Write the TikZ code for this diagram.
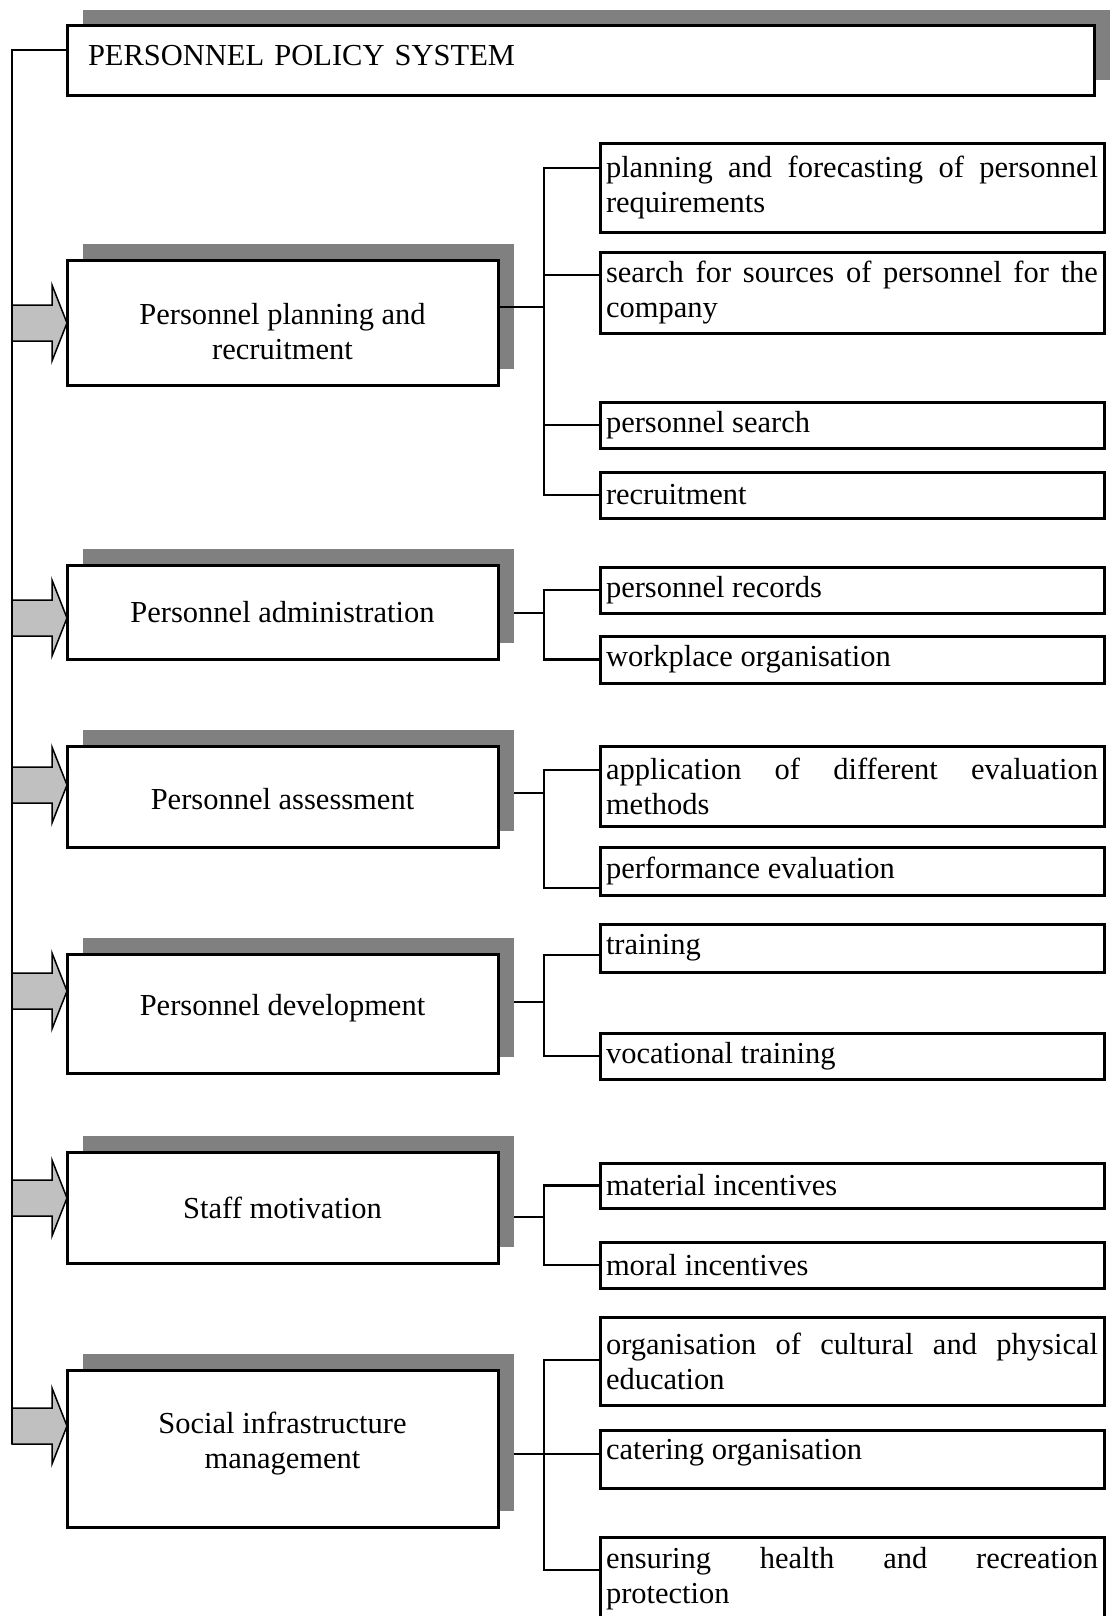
\documentclass[tikz,border=0pt]{standalone}
\usepackage{fontspec}
\setmainfont{Liberation Serif}
\usetikzlibrary{calc,shadows}
\definecolor{shadowgray}{HTML}{808080}
\definecolor{arrowgray}{HTML}{C0C0C0}
\hyphenpenalty=10000
\exhyphenpenalty=10000
% move the ink of a label without changing the space it takes
\newcommand{\nudge}[2]{\raisebox{#1}[\height][\depth]{#2}}
\newcommand{\twolines}[2]{\begin{tabular}{@{}c@{}}#1\\#2\end{tabular}}

\begin{document}
\begin{tikzpicture}[x=1pt,y=-1pt,
  txt/.style={font=\fontsize{30.5}{35}\selectfont},
  boxshadow/.style={general shadow={fill=shadowgray, shadow xshift=16pt, shadow yshift=16pt}},
  framed/.style={txt, draw, line width=3pt, fill=white, outer sep=0pt},
  titlebox/.style={framed, boxshadow, minimum width=1027pt, minimum height=70pt,
    inner xsep=21pt, inner ysep=0pt, text width=985pt, align=left},
  mainbox/.style={framed, boxshadow, minimum width=431pt, inner sep=0pt, align=center},
  subbox/.style={framed, minimum width=504pt, inner xsep=6pt, inner ysep=0pt,
    text width=492pt, align=justify},
  link/.style={line width=2.8pt, line join=miter},
  blockarrow/.style={fill=arrowgray, draw=black, line width=1.5pt, line join=miter}
]
\useasboundingbox (0,0) rectangle (1110,1616);

% head of the structure
\node[titlebox] (sys) at (580.5,61) {\nudge{5pt}{PERSONNEL POLICY SYSTEM}};

% functional blocks
\node[mainbox, minimum height=125pt] (b1) at (282.5,322.5)
  {\nudge{-12pt}{\twolines{Personnel planning and}{recruitment}}};
\node[mainbox, minimum height=94pt]  (b2) at (282.5,612) {Personnel administration};
\node[mainbox, minimum height=101pt] (b3) at (282.5,796.5) {\nudge{-3pt}{Personnel assessment}};
\node[mainbox, minimum height=119pt] (b4) at (282.5,1013.5) {\nudge{5pt}{Personnel development}};
\node[mainbox, minimum height=111pt] (b5) at (282.5,1207.5) {Staff motivation};
\node[mainbox, minimum height=157pt] (b6) at (282.5,1448.5)
  {\nudge{5pt}{\twolines{Social infrastructure}{management}}};

% tasks of each block
\node[subbox, minimum height=88pt] (s11) at (852,188) {planning and forecasting of personnel\linebreak requirements};
\node[subbox, minimum height=81pt] (s12) at (852,292.5) {search for sources of personnel for the\linebreak company};
\node[subbox, minimum height=46pt] (s13) at (852,425) {personnel search};
\node[subbox, minimum height=46pt] (s14) at (852,495) {recruitment};

\node[subbox, minimum height=46pt] (s21) at (852,590) {personnel records};
\node[subbox, minimum height=47pt] (s22) at (852,659.5) {workplace organisation};

\node[subbox, minimum height=80pt] (s31) at (852,786) {application of different evaluation\linebreak methods};
\node[subbox, minimum height=48pt] (s32) at (852,871) {performance evaluation};

\node[subbox, minimum height=48pt] (s41) at (852,948) {training};
\node[subbox, minimum height=46pt] (s42) at (852,1056) {vocational training};

\node[subbox, minimum height=45pt] (s51) at (852,1185.5) {material incentives};
\node[subbox, minimum height=46pt] (s52) at (852,1265) {moral incentives};

\node[subbox, minimum height=88pt] (s61) at (852,1361) {organisation of cultural and physical\linebreak education};
\node[subbox, minimum height=58pt] (s62) at (852,1459) {\nudge{6pt}{catering organisation}};
\node[subbox, minimum height=83pt] (s63) at (852,1578.5) {ensuring health and recreation\linebreak protection};

% trunk from the head down to the last block
\coordinate (trunkend) at ($(b6.west)+(-55,-4.5)$);
\draw[link] ($(sys.north west)+(0,24)$) -| (trunkend);

% block arrows from the trunk into the blocks
\foreach \b/\dy in {b1/0.5, b2/6, b3/-11.5, b4/-22.5, b5/-9.5, b6/-22.5}
  \draw[blockarrow] ($(\b.west)+(0,\dy)$) -- ++(-15,38) -- ++(0,-20) -- ++(-40,0)
    -- ++(0,-36) -- ++(40,0) -- ++(0,-20) -- cycle;

% group 1
\coordinate (k1) at (544,307);
\coordinate (e11) at ($(s11.north west)+(0,24)$);
\coordinate (e12) at ($(s12.north west)+(0,23)$);
\draw[link] (b1.east |- k1) -- (k1);
\draw[link] (e11) -| (k1) |- (s14.west);
\draw[link] (e12) -- (k1 |- e12);
\draw[link] (s13.west) -- (k1 |- s13.west);

% group 2
\coordinate (k2) at (544,613);
\draw[link] ($(b2.east |- k2)+(16,0)$) -- (k2);
\draw[link] (s21.west) -| (k2) |- (s22.west);

% group 3
\coordinate (k3) at (544,793);
\coordinate (e31) at ($(s31.north west)+(0,24)$);
\coordinate (e32) at ($(s32.south west)+(0,-7)$);
\draw[link] ($(b3.east |- k3)+(16,0)$) -- (k3);
\draw[link] (e31) -| (k3) |- (e32);

% group 4
\coordinate (k4) at (544,1002);
\coordinate (e41) at ($(s41.west)+(0,7)$);
\draw[link] ($(b4.east |- k4)+(16,0)$) -- (k4);
\draw[link] (e41) -| (k4) |- (s42.west);

% group 5
\coordinate (k5) at (544,1217);
\draw[link] ($(b5.east |- k5)+(16,0)$) -- (k5);
\draw[link] (s51.west) -| (k5) |- (s52.west);

% group 6
\coordinate (k6) at (544,1454);
\coordinate (e61) at ($(s61.north west)+(0,43)$);
\coordinate (e63) at ($(s63.north west)+(0,33)$);
\draw[link] ($(b6.east |- k6)+(16,0)$) -- (s62.west |- k6);
\draw[link] (e61) -| (k6) |- (e63);
\end{tikzpicture}
\end{document}
